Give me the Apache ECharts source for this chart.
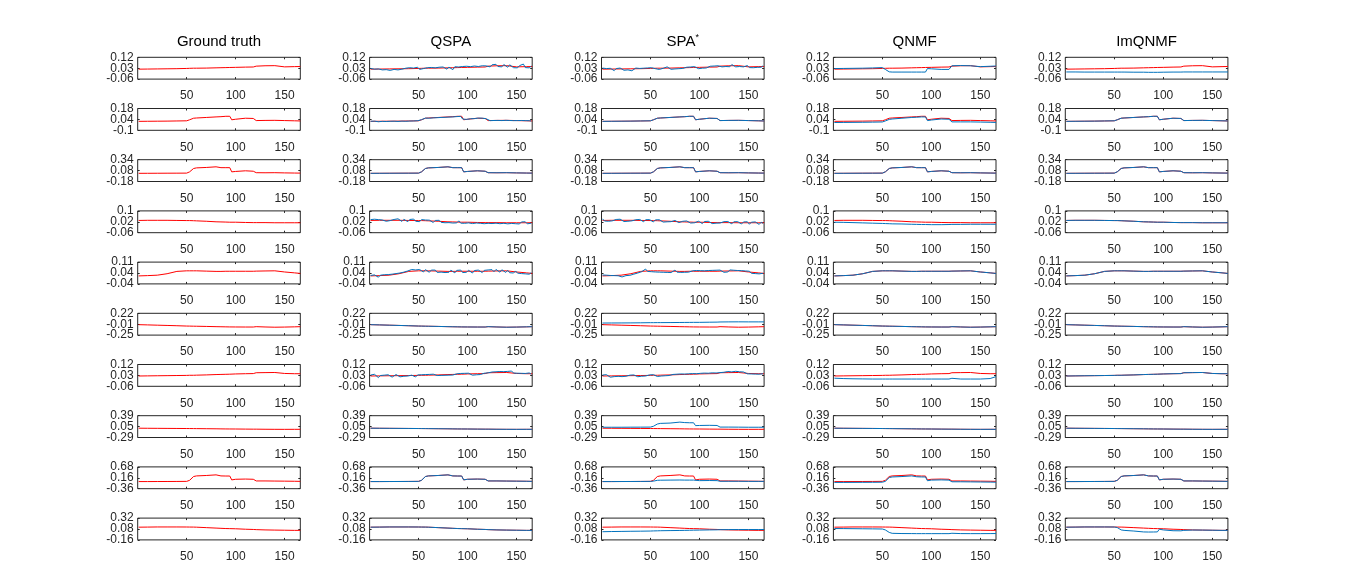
<!DOCTYPE html>
<html><head><meta charset="utf-8">
<script src="https://cdn.jsdelivr.net/npm/echarts@6/dist/echarts.min.js"></script>
<style>html,body{margin:0;padding:0;background:#fff}#c{width:1366px;height:569px}</style>
</head><body><div id="c"></div>
<script>
// ---------- data ----------
const titles = ['Ground truth', 'QSPA', 'SPA*', 'QNMF', 'ImQNMF'];
const xTickValues = [50, 100, 150];
const xRange = [0, 166];
const yLimits = [[-0.06,0.12],[-0.1,0.18],[-0.18,0.34],[-0.06,0.1],[-0.04,0.11],[-0.25,0.22],[-0.06,0.12],[-0.29,0.39],[-0.36,0.68],[-0.16,0.32]];
const yTickLabels = [['-0.06','0.03','0.12'],['-0.1','0.04','0.18'],['-0.18','0.08','0.34'],['-0.06','0.02','0.1'],['-0.04','0.04','0.11'],['-0.25','-0.01','0.22'],['-0.06','0.03','0.12'],['-0.29','0.05','0.39'],['-0.36','0.16','0.68'],['-0.16','0.08','0.32']];

const xCoarse = [1,10,20,30,40,50,53,57,60,70,80,85,90,94,96,100,110,118,121,130,140,150,160,166];
const xFine = [1,3,5,7,9,11,13,15,17,19,21,23,25,27,29,31,33,35,37,39,41,43,45,47,49,51,53,55,57,59,61,63,65,67,69,71,73,75,77,79,81,83,85,87,89,91,93,95,97,99,101,103,105,107,109,111,113,115,117,119,121,123,125,127,129,131,133,135,137,139,141,143,145,147,149,151,153,155,157,159,161,163,165];

// ground truth (red)
const red1 = [0.022,0.023,0.024,0.025,0.026,0.028,0.029,0.030,0.030,0.031,0.033,0.034,0.035,0.036,0.037,0.037,0.039,0.040,0.047,0.050,0.051,0.041,0.043,0.044];
const red2 = [0.015,0.016,0.017,0.018,0.020,0.022,0.035,0.055,0.058,0.065,0.072,0.075,0.080,0.080,0.035,0.042,0.055,0.052,0.025,0.027,0.028,0.025,0.022,0.020];
const red3 = [0.015,0.016,0.017,0.018,0.019,0.020,0.050,0.130,0.145,0.155,0.170,0.150,0.150,0.150,0.050,0.060,0.075,0.065,0.030,0.028,0.030,0.025,0.022,0.020];
const red4 = [0.030,0.031,0.031,0.031,0.030,0.029,0.029,0.028,0.027,0.024,0.020,0.019,0.018,0.017,0.017,0.017,0.015,0.014,0.014,0.014,0.013,0.013,0.013,0.013];
const red5 = [0.015,0.017,0.020,0.030,0.046,0.050,0.050,0.050,0.050,0.048,0.046,0.046,0.047,0.047,0.047,0.047,0.047,0.047,0.048,0.049,0.050,0.042,0.036,0.032];
const red6 = [-0.025,-0.030,-0.036,-0.042,-0.048,-0.055,-0.056,-0.058,-0.059,-0.063,-0.068,-0.070,-0.072,-0.074,-0.075,-0.075,-0.076,-0.076,-0.068,-0.075,-0.080,-0.077,-0.072,-0.068];
const red7 = [0.025,0.026,0.027,0.028,0.029,0.030,0.031,0.031,0.032,0.034,0.037,0.038,0.039,0.040,0.041,0.042,0.044,0.045,0.052,0.053,0.054,0.046,0.044,0.044];
const red8 = [0.000,-0.002,-0.004,-0.006,-0.008,-0.010,-0.011,-0.012,-0.013,-0.016,-0.019,-0.021,-0.023,-0.024,-0.025,-0.025,-0.028,-0.030,-0.030,-0.033,-0.035,-0.036,-0.035,-0.035];
const red9 = [-0.020,-0.020,-0.018,-0.016,-0.014,-0.010,0.040,0.220,0.250,0.270,0.300,0.250,0.245,0.245,0.060,0.090,0.100,0.090,0.010,0.010,0.005,0.000,-0.005,-0.010];
const red10 = [0.120,0.122,0.125,0.125,0.125,0.124,0.123,0.122,0.120,0.110,0.100,0.095,0.090,0.088,0.087,0.085,0.075,0.070,0.066,0.060,0.056,0.053,0.050,0.050];

// QSPA estimates (noisy, fine grid)
const qspa1 = [0.028,0.014,0.022,0.008,0.024,0.030,0.016,0.026,0.018,0.032,
 0.012,0.027,0.020,0.034,0.016,0.029,0.022,0.013,0.030,0.023,
 0.034,0.018,0.031,0.024,0.038,0.020,0.032,0.027,0.017,0.034,
 0.024,0.036,0.025,0.033,0.021,0.038,0.027,0.040,0.030,0.022,
 0.039,0.029,0.018,0.042,0.030,0.040,0.024,0.044,0.032,0.046,
 0.031,0.043,0.027,0.048,0.035,0.044,0.029,0.050,0.036,0.049,
 0.056,0.041,0.058,0.045,0.062,0.044,0.056,0.041,0.060,0.047,
 0.038,0.058,0.044,0.034,0.050,0.033,0.051,0.037,0.064,0.035,
 0.049,0.033,0.048];
const qspa2 = [0.016,0.012,0.018,0.014,0.010,0.017,0.015,0.020,0.013,0.018,0.016,0.021,0.017,0.019,0.014,0.020,0.018,0.022,0.016,0.021,0.019,0.024,0.020,0.018,0.023,0.021,0.036,0.050,0.057,0.060,0.055,0.063,0.060,0.066,0.062,0.068,0.065,0.070,0.067,0.072,0.070,0.075,0.072,0.078,0.076,0.082,0.079,0.045,0.034,0.040,0.045,0.048,0.052,0.050,0.055,0.057,0.053,0.056,0.052,0.048,0.026,0.024,0.029,0.026,0.031,0.027,0.030,0.025,0.032,0.028,0.030,0.026,0.029,0.024,0.027,0.025,0.022,0.026,0.021,0.024,0.020,0.023,0.019];
const qspa4 = [0.036,0.022,0.039,0.026,0.036,0.023,0.033,0.041,0.024,0.038,
 0.029,0.021,0.037,0.026,0.042,0.031,0.023,0.038,0.028,0.021,
 0.037,0.026,0.040,0.024,0.034,0.021,0.036,0.023,0.033,0.019,
 0.032,0.021,0.015,0.030,0.018,0.031,0.016,0.028,0.013,0.027,
 0.014,0.028,0.011,0.025,0.012,0.027,0.010,0.023,0.009,0.022,
 0.012,0.025,0.007,0.021,0.011,0.024,0.009,0.020,0.006,0.019,
 0.009,0.023,0.007,0.019,0.010,0.022,0.006,0.018,0.009,0.021,
 0.005,0.018,0.008,0.022,0.006,0.017,0.004,0.019,0.008,0.020,
 0.005,0.017,0.010];
const qspa5 = [0.018,0.009,0.022,0.012,0.006,0.020,0.010,0.023,0.013,0.024,
 0.016,0.027,0.020,0.031,0.024,0.035,0.033,0.041,0.040,0.049,
 0.047,0.059,0.046,0.056,0.044,0.059,0.048,0.042,0.058,0.046,
 0.040,0.055,0.043,0.055,0.039,0.052,0.041,0.054,0.038,0.051,
 0.040,0.054,0.042,0.036,0.053,0.041,0.055,0.038,0.050,0.040,
 0.054,0.041,0.035,0.052,0.040,0.055,0.042,0.038,0.053,0.041,
 0.056,0.043,0.058,0.044,0.059,0.046,0.041,0.057,0.044,0.039,
 0.053,0.037,0.050,0.035,0.049,0.034,0.047,0.031,0.044,0.029,
 0.041,0.027,0.037];
const qspa7 = [0.033,0.019,0.039,0.026,0.012,0.029,0.018,0.032,0.021,0.035,
 0.024,0.016,0.032,0.037,0.022,0.018,0.033,0.023,0.036,0.025,
 0.019,0.032,0.022,0.017,0.034,0.023,0.035,0.024,0.037,0.025,
 0.038,0.027,0.040,0.052,0.029,0.042,0.030,0.044,0.031,0.043,
 0.032,0.045,0.033,0.029,0.043,0.032,0.046,0.034,0.047,0.035,
 0.048,0.036,0.032,0.047,0.035,0.049,0.037,0.033,0.048,0.037,
 0.051,0.046,0.058,0.045,0.060,0.047,0.062,0.049,0.061,0.048,
 0.063,0.051,0.066,0.049,0.043,0.048,0.041,0.047,0.039,0.046,
 0.038,0.050,0.041];

// SPA* estimates
const spa1 = [0.031,0.016,0.027,0.012,0.029,0.018,0.010,0.027,0.016,0.031,
 0.019,0.013,0.028,0.016,0.030,0.009,0.024,0.031,0.018,0.028,
 0.015,0.030,0.019,0.032,0.021,0.034,0.042,0.026,0.037,0.020,
 0.010,0.029,0.034,0.041,0.027,0.021,0.035,0.024,0.037,0.026,
 0.039,0.028,0.022,0.038,0.026,0.040,0.029,0.043,0.031,0.026,
 0.042,0.030,0.045,0.032,0.028,0.046,0.033,0.048,0.035,0.050,
 0.054,0.041,0.057,0.044,0.058,0.042,0.060,0.046,0.041,0.057,
 0.044,0.059,0.041,0.037,0.052,0.035,0.049,0.034,0.050,0.037,
 0.053,0.038,0.050];
const spa4 = [0.042,0.026,0.040,0.024,0.038,0.027,0.021,0.037,0.025,0.039,
 0.028,0.022,0.036,0.024,0.038,0.027,0.021,0.035,0.023,0.037,
 0.026,0.020,0.035,0.023,0.036,0.025,0.019,0.034,0.022,0.035,
 0.024,0.018,0.032,0.020,0.033,0.021,0.016,0.030,0.018,0.014,
 0.008,0.024,0.013,0.026,0.015,0.011,0.025,0.013,0.009,0.024,
 0.012,0.007,0.022,0.011,0.024,0.012,0.007,0.021,0.010,0.023,
 0.011,0.006,0.021,0.009,0.022,0.010,0.005,0.020,0.008,0.021,
 0.009,0.004,0.019,0.007,0.020,0.002,0.017,0.006,0.019,0.007,
 0.001,0.017,0.008];
const spa5 = [0.021,0.010,0.020,0.008,0.018,0.006,0.017,0.005,0.016,0.020,
 0.008,0.021,0.017,0.027,0.019,0.030,0.027,0.037,0.035,0.046,
 0.044,0.056,0.062,0.046,0.058,0.044,0.056,0.042,0.054,0.041,
 0.053,0.040,0.052,0.039,0.051,0.038,0.050,0.055,0.041,0.052,
 0.039,0.051,0.040,0.053,0.041,0.037,0.050,0.039,0.052,0.040,
 0.051,0.038,0.050,0.039,0.052,0.041,0.053,0.042,0.054,0.043,
 0.055,0.044,0.040,0.053,0.042,0.056,0.043,0.054,0.041,0.052,
 0.040,0.051,0.038,0.049,0.036,0.047,0.033,0.045,0.031,0.043,
 0.029,0.041,0.033];
const spa6 = [0.010,0.011,0.012,0.013,0.015,0.018,0.018,0.019,0.019,0.020,0.022,0.023,0.024,0.025,0.025,0.025,0.028,0.030,0.033,0.035,0.036,0.035,0.035,0.035];
const spa7 = [0.033,0.020,0.036,0.024,0.015,0.031,0.020,0.033,0.022,0.032,
 0.020,0.034,0.023,0.018,0.032,0.022,0.034,0.024,0.019,0.033,
 0.023,0.035,0.025,0.020,0.034,0.024,0.036,0.026,0.021,0.035,
 0.025,0.037,0.027,0.039,0.029,0.024,0.038,0.028,0.040,0.030,
 0.042,0.031,0.041,0.032,0.043,0.033,0.045,0.034,0.044,0.035,
 0.047,0.037,0.049,0.038,0.048,0.039,0.051,0.040,0.050,0.041,
 0.053,0.043,0.056,0.046,0.062,0.048,0.059,0.047,0.064,0.049,
 0.060,0.048,0.058,0.046,0.043,0.055,0.042,0.052,0.041,0.051,
 0.040,0.050,0.044];
const spa8 = [0.030,0.030,0.030,0.032,0.033,0.035,0.060,0.130,0.150,0.160,0.190,0.175,0.170,0.170,0.080,0.085,0.090,0.085,0.035,0.035,0.033,0.030,0.030,0.030];
const spa9 = [-0.020,-0.020,-0.018,-0.016,-0.014,-0.010,0.000,0.040,0.045,0.050,0.055,0.050,0.050,0.050,0.020,0.025,0.030,0.025,-0.005,-0.005,-0.005,-0.010,-0.010,-0.010];
const spa10 = [0.020,0.024,0.027,0.030,0.032,0.035,0.038,0.040,0.042,0.045,0.048,0.050,0.052,0.054,0.055,0.056,0.060,0.062,0.065,0.067,0.068,0.068,0.068,0.068];

// QNMF estimates
const qnmf1 = [0.027,0.028,0.029,0.030,0.032,0.035,0.020,0.000,-0.002,-0.002,-0.002,-0.002,-0.002,-0.002,0.027,0.025,0.020,0.020,0.050,0.052,0.050,0.043,0.046,0.048];
const qnmf2 = [0.000,0.001,0.002,0.003,0.005,0.007,0.020,0.040,0.045,0.055,0.065,0.068,0.072,0.072,0.025,0.032,0.045,0.042,0.008,0.008,0.008,0.006,0.003,0.001];
const qnmf4 = [0.017,0.016,0.014,0.012,0.010,0.008,0.007,0.006,0.005,0.004,0.002,0.001,0.000,0.000,0.000,-0.001,-0.001,0.000,0.001,0.001,0.002,0.002,0.002,0.002];
const qnmf7 = [0.007,0.004,0.002,0.001,0.000,0.000,0.000,0.000,0.000,0.000,0.000,0.000,0.000,0.000,0.000,0.000,0.000,0.000,0.006,0.000,0.000,0.000,0.004,0.020];
const qnmf9 = [-0.060,-0.060,-0.058,-0.056,-0.054,-0.050,-0.010,0.170,0.200,0.220,0.250,0.210,0.200,0.200,0.020,0.050,0.060,0.050,-0.030,-0.030,-0.035,-0.040,-0.045,-0.050];
const qnmf10 = [0.090,0.089,0.087,0.085,0.083,0.080,0.060,0.005,-0.015,-0.020,-0.021,-0.022,-0.022,-0.022,-0.022,-0.022,-0.022,-0.022,-0.014,-0.021,-0.022,-0.022,-0.021,-0.020];

// ImQNMF estimates
const imq1 = [-0.001,-0.001,-0.002,-0.002,-0.002,-0.002,-0.002,-0.002,-0.002,-0.003,-0.003,-0.004,-0.004,-0.004,-0.003,-0.003,-0.002,-0.002,-0.001,-0.001,-0.001,-0.001,-0.001,-0.001];
const imq10 = [0.120,0.122,0.125,0.125,0.125,0.124,0.112,0.060,0.050,0.035,0.015,0.013,0.014,0.016,0.075,0.060,0.042,0.040,0.050,0.057,0.056,0.053,0.050,0.050];

const redRows = [red1, red2, red3, red4, red5, red6, red7, red8, red9, red10];
const blueCols = [
  null,
  [qspa1, qspa2, red3, qspa4, qspa5, red6, qspa7, red8, red9, red10],
  [spa1, red2, red3, spa4, spa5, spa6, spa7, spa8, spa9, spa10],
  [qnmf1, qnmf2, red3, qnmf4, red5, red6, qnmf7, red8, qnmf9, qnmf10],
  [imq1, red2, red3, red4, red5, red6, red7, red8, red9, imq10]
];

// ---------- layout / style ----------
const FONT = '"Liberation Sans", Arial, Helvetica, sans-serif';
const AX = '#262626';
const RED = '#FF0000', BLUE = '#0072BD';
const colLeft0 = 137.7, colStep = 231.9, colW = 162.6;
const rowTop0 = 57.3, rowStep = 51.2, rowH = 21.8;

function pairs(ys) {
  const xs = ys.length === xFine.length ? xFine : xCoarse;
  return ys.map((y, i) => [xs[i], y]);
}

const grid = [], xAxis = [], yAxis = [], series = [], graphic = [];
const noAxisLine = {show: false, onZero: false};
for (let r = 0; r < 10; r++) {
  for (let c = 0; c < 5; c++) {
    const g = r * 5 + c;
    grid.push({left: colLeft0 + c * colStep, top: rowTop0 + r * rowStep, width: colW, height: rowH,
      show: true, borderColor: AX, borderWidth: 1, backgroundColor: 'transparent', containLabel: false, outerBoundsMode: 'none'});
    const [lo, hi] = yLimits[r];
    const mid = (lo + hi) / 2;
    const labs = yTickLabels[r];
    const tick = {show: true, inside: true, length: 2, lineStyle: {color: AX}};
    const lab = {show: true, fontSize: 12, color: AX, fontFamily: FONT, showMinLabel: true, showMaxLabel: true, hideOverlap: false};
    xAxis.push({gridIndex: g, type: 'value', min: xRange[0], max: xRange[1], position: 'bottom',
      axisLine: noAxisLine, splitLine: {show: false},
      axisTick: Object.assign({customValues: xTickValues}, tick),
      axisLabel: Object.assign({customValues: xTickValues, margin: 11}, lab)});
    xAxis.push({gridIndex: g, type: 'value', min: xRange[0], max: xRange[1], position: 'top',
      axisLine: noAxisLine, splitLine: {show: false},
      axisTick: Object.assign({customValues: xTickValues}, tick),
      axisLabel: {show: false}});
    // left axis: end labels
    yAxis.push({gridIndex: g, type: 'value', min: lo, max: hi, position: 'left',
      axisLine: noAxisLine, splitLine: {show: false},
      axisTick: Object.assign({customValues: [lo, mid, hi]}, tick),
      axisLabel: Object.assign({customValues: [lo, hi], margin: 4,
        formatter: (v) => (Math.abs(v - lo) < Math.abs(v - hi) ? labs[0] : labs[2])}, lab)});
    // right axis: ticks only
    yAxis.push({gridIndex: g, type: 'value', min: lo, max: hi, position: 'right',
      axisLine: noAxisLine, splitLine: {show: false},
      axisTick: Object.assign({customValues: [lo, mid, hi]}, tick),
      axisLabel: {show: false}});
    // left axis: middle label
    yAxis.push({gridIndex: g, type: 'value', min: lo, max: hi, position: 'left',
      axisLine: noAxisLine, splitLine: {show: false}, axisTick: {show: false},
      axisLabel: Object.assign({customValues: [mid], margin: 4, formatter: () => labs[1]}, lab)});
    series.push({type: 'line', xAxisIndex: 2 * g, yAxisIndex: 3 * g, data: pairs(redRows[r]),
      showSymbol: false, symbol: 'none', lineStyle: {color: RED, width: 1}, itemStyle: {color: RED}, silent: true});
    if (c > 0) {
      series.push({type: 'line', xAxisIndex: 2 * g, yAxisIndex: 3 * g, data: pairs(blueCols[c][r]),
        showSymbol: false, symbol: 'none', lineStyle: {color: BLUE, width: 1}, itemStyle: {color: BLUE}, silent: true});
    }
  }
}
titles.forEach((t, c) => {
  const cx = colLeft0 + c * colStep + colW / 2;
  const isSup = t.endsWith('*');
  graphic.push({type: 'text', x: cx, y: 42, silent: true,
    style: {text: isSup ? '{a|' + t.slice(0, -1) + '}{b|*}' : t,
      fontSize: 15, fontFamily: FONT, fill: '#000', align: 'center', verticalAlign: 'middle',
      rich: {a: {fontSize: 15, fontFamily: FONT, fill: '#000', color: '#000', lineHeight: 18},
             b: {fontSize: 9, fontFamily: FONT, fill: '#000', color: '#000', verticalAlign: 'top', lineHeight: 18}}}});
});

const chart = echarts.init(document.getElementById('c'), null, {renderer: 'canvas'});
chart.setOption({animation: false, backgroundColor: '#fff', grid, xAxis, yAxis, series, graphic});
</script></body></html>
